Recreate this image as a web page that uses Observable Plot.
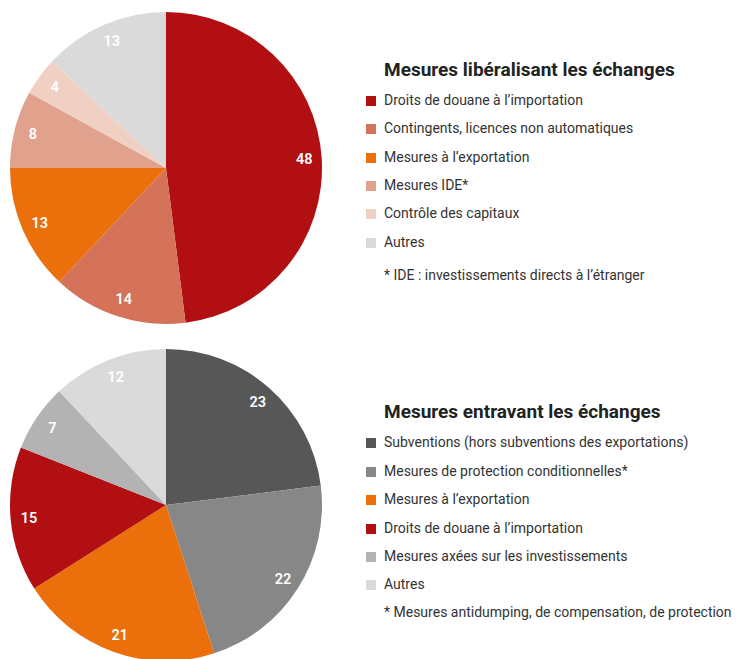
<!DOCTYPE html>
<html><head><meta charset="utf-8">
<script src="https://cdn.jsdelivr.net/npm/d3@7"></script>
<script src="https://cdn.jsdelivr.net/npm/@observablehq/plot@0.6"></script>
<style>
body{margin:0;background:#fff;font-family:Roboto,"Noto Sans",sans-serif;}
#wrap{position:relative;width:736px;height:659px;overflow:hidden;}
.pie{position:absolute;left:0;}
.legend{position:absolute;left:366px;width:370px;}
.legend .title{position:absolute;left:18px;font-weight:bold;font-size:19px;color:#222;white-space:nowrap;line-height:20px;}
.legend .item{position:absolute;left:0;white-space:nowrap;font-size:14px;color:#333;line-height:16px;}
.legend .sw{display:inline-block;width:10px;height:10px;vertical-align:-1px;margin-right:8px;}
.legend .note{position:absolute;left:18px;white-space:nowrap;font-size:14px;color:#333;line-height:16px;}
</style>
</head><body>
<div id="wrap"></div>
<script>
// --- Data: Mesures libéralisant les échanges ---
const libTitle = "Mesures libéralisant les échanges";
const libCategories = ["Droits de douane à l’importation", "Contingents, licences non automatiques", "Mesures à l’exportation", "Mesures IDE*", "Contrôle des capitaux", "Autres"];
const libValues = [48, 14, 13, 8, 4, 13];
const libColors = ["#b10f12", "#d4725a", "#eb6f0a", "#e0a28c", "#f1d0c4", "#dadada"];
const libNote = "* IDE : investissements directs à l’étranger";

// --- Data: Mesures entravant les échanges ---
const entTitle = "Mesures entravant les échanges";
const entCategories = ["Subventions (hors subventions des exportations)", "Mesures de protection conditionnelles*", "Mesures à l’exportation", "Droits de douane à l’importation", "Mesures axées sur les investissements", "Autres"];
const entValues = [23, 22, 21, 15, 7, 12];
const entColors = ["#575757", "#878787", "#eb6f0a", "#b10f12", "#b3b3b3", "#dadada"];
const entNote = "* Mesures antidumping, de compensation, de protection";

const labelRadius = 0.885;

function pieChart(cats, vals, colors) {
  const data = cats.map((c, i) => ({cat: c, value: vals[i], color: colors[i]}));
  const arcs = d3.pie().sort(null).value(d => d.value)(data);
  const labels = arcs.map(a => {
    const m = (a.startAngle + a.endAngle) / 2;
    return {x: labelRadius * Math.sin(m), y: labelRadius * Math.cos(m), text: String(a.data.value)};
  });
  return Plot.plot({
    width: 332, height: 336,
    marginLeft: 10, marginRight: 10, marginTop: 12, marginBottom: 12,
    x: {domain: [-1, 1], axis: null},
    y: {domain: [-1, 1], axis: null},
    style: {background: "transparent", fontFamily: "Roboto, sans-serif"},
    marks: [
      (index, scales) => {
        const cx = scales.x(0), cy = scales.y(0), r = scales.x(1) - cx;
        const g = d3.create("svg:g").attr("transform", `translate(${cx},${cy})`);
        g.selectAll("path").data(arcs).join("path")
          .attr("d", d3.arc().innerRadius(0).outerRadius(r))
          .attr("fill", d => d.data.color);
        return g.node();
      },
      Plot.text(labels, {x: "x", y: "y", text: "text", fill: "white", fontSize: 14.5, fontWeight: 600})
    ]
  });
}

function legend(title, cats, colors, note, top, itemTops, noteTop) {
  const div = document.createElement("div");
  div.className = "legend";
  div.style.top = "0px";
  const t = document.createElement("div");
  t.className = "title"; t.textContent = title; t.style.top = (top - 10) + "px";
  div.appendChild(t);
  cats.forEach((c, i) => {
    const it = document.createElement("div");
    it.className = "item";
    it.style.top = (itemTops[i] - 8) + "px";
    it.innerHTML = `<span class="sw" style="background:${colors[i]}"></span>`;
    it.appendChild(document.createTextNode(c));
    div.appendChild(it);
  });
  const n = document.createElement("div");
  n.className = "note"; n.textContent = note; n.style.top = (noteTop - 8) + "px";
  div.appendChild(n);
  return div;
}

const wrap = document.getElementById("wrap");
const p1 = pieChart(libCategories, libValues, libColors);
p1.classList.add("pie"); p1.style.top = "0px";
wrap.appendChild(p1);
const p2 = pieChart(entCategories, entValues, entColors);
p2.classList.add("pie"); p2.style.top = "337px";
wrap.appendChild(p2);

wrap.appendChild(legend(libTitle, libCategories, libColors, libNote, 70, [100, 128, 157, 185, 213, 242], 275));
wrap.appendChild(legend(entTitle, entCategories, entColors, entNote, 412, [442, 471, 499, 528, 556, 584], 612));
</script>
</body></html>
